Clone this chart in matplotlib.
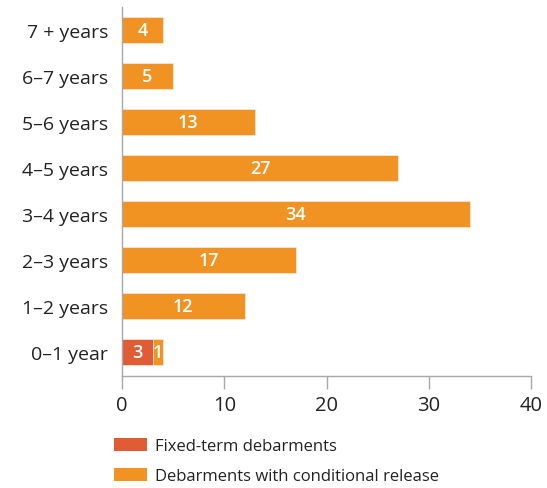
import matplotlib.pyplot as plt
from matplotlib.patches import Patch

categories = ["0\u20131 year", "1\u20132 years", "2\u20133 years", "3\u20134 years",
              "4\u20135 years", "5\u20136 years", "6\u20137 years", "7 + years"]
fixed_term = [3, 0, 0, 0, 0, 0, 0, 0]
conditional = [1, 12, 17, 34, 27, 13, 5, 4]
x_ticks = [0, 10, 20, 30, 40]

RED = "#E05C35"
ORANGE = "#F09322"
GRAY = "#A8A8A8"
TEXT = "#222222"

plt.rcParams["font.family"] = ["Open Sans", "DejaVu Sans"]

fig = plt.figure(figsize=(5.47, 4.89), dpi=100)
ax = fig.add_axes([0.223, 0.229, 0.748, 0.755])

ypos = list(range(len(categories)))
ax.barh(ypos, fixed_term, height=0.57, color=RED, edgecolor="#FBE3D8", linewidth=0.6)
ax.barh(ypos, conditional, left=fixed_term, height=0.57, color=ORANGE,
        edgecolor="#FBE3D8", linewidth=0.6)

for y, f, c in zip(ypos, fixed_term, conditional):
    if f > 0:
        ax.text(f / 2, y, str(f), ha="center", va="center", color="white",
                fontsize=13, fontweight="semibold")
    if c > 0:
        ax.text(f + c / 2, y, str(c), ha="center", va="center", color="white",
                fontsize=13, fontweight="semibold")

ax.set_xlim(0, 40)
ax.set_ylim(-0.52, 7.5)
ax.set_xticks(x_ticks)
ax.set_yticks(ypos)
ax.set_yticklabels(categories)

for side in ("top", "right"):
    ax.spines[side].set_visible(False)
for side in ("left", "bottom"):
    ax.spines[side].set_color(GRAY)
    ax.spines[side].set_linewidth(1.0)

ax.tick_params(axis="x", direction="out", length=9, width=1.0, color=GRAY,
               labelsize=14.5, labelcolor=TEXT, pad=5)
ax.tick_params(axis="y", length=0, labelsize=14, labelcolor=TEXT, pad=10)

handles = [Patch(facecolor=RED, edgecolor="none", label="Fixed-term debarments"),
           Patch(facecolor=ORANGE, edgecolor="none", label="Debarments with conditional release")]
fig.legend(handles=handles, loc="upper left", bbox_to_anchor=(0.193, 0.12),
           frameon=False, fontsize=12, handlelength=2.0, handleheight=0.9,
           handletextpad=0.45, labelspacing=0.8, labelcolor=TEXT, borderpad=0)

fig.savefig("out.png", dpi=100)
